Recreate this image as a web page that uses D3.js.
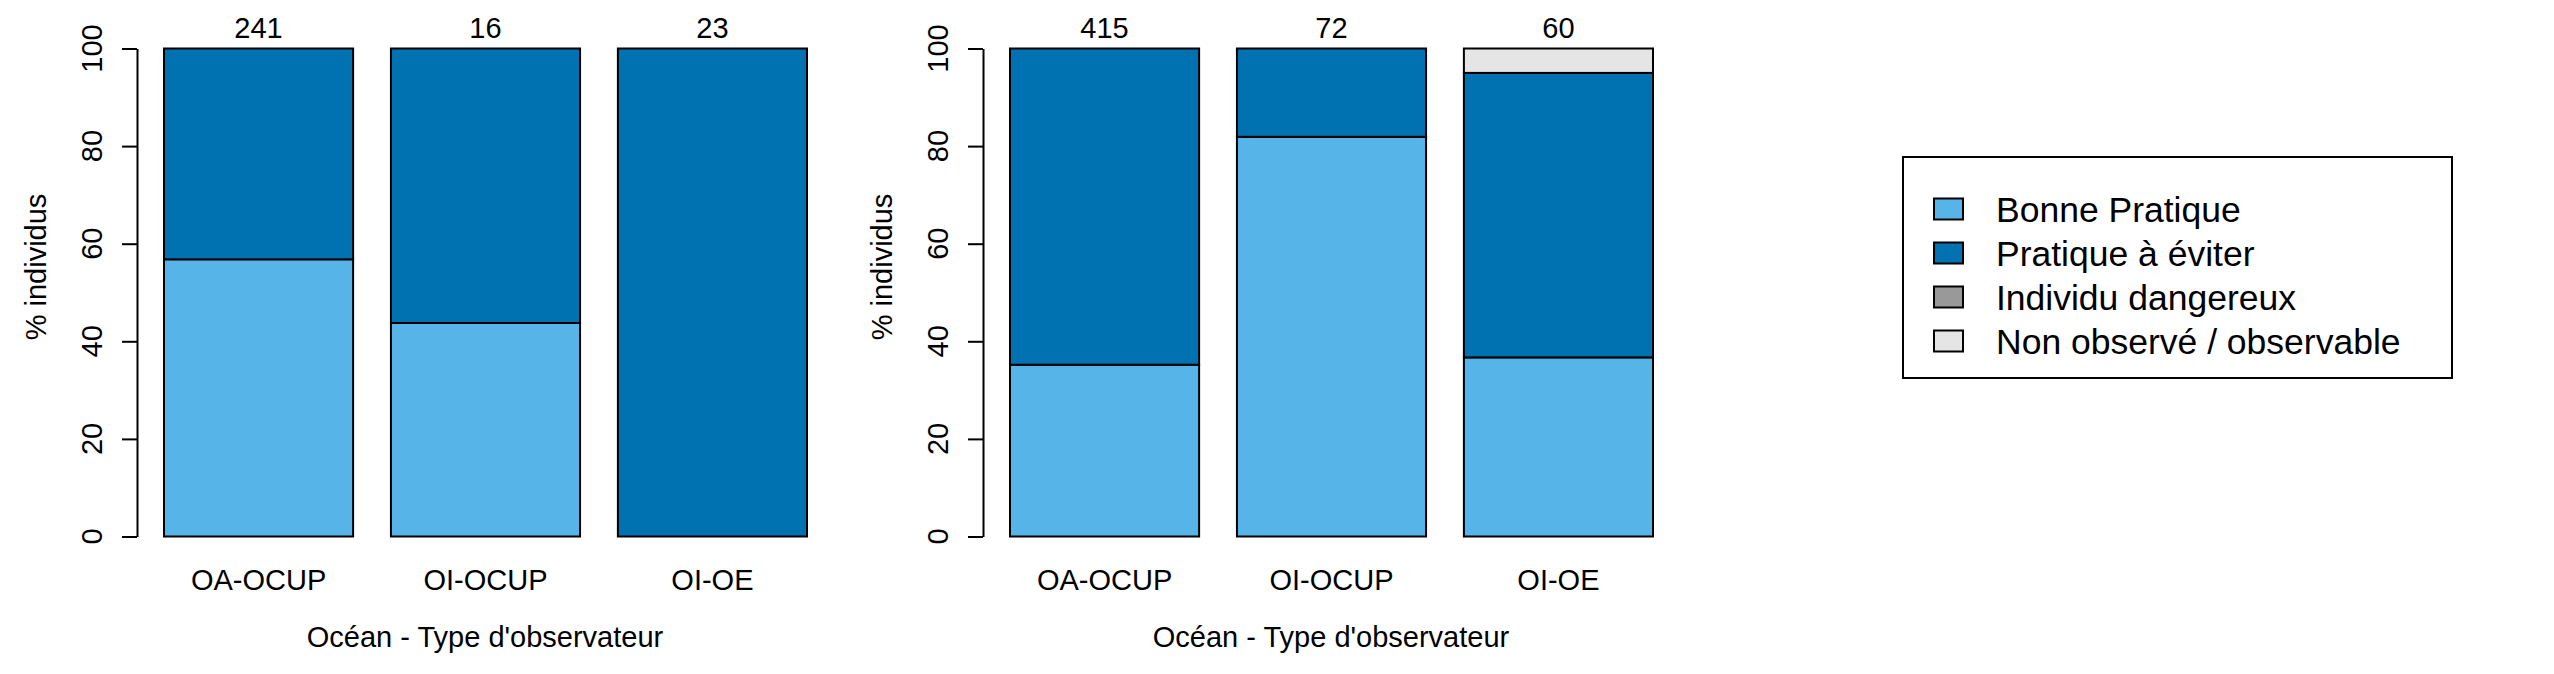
<!DOCTYPE html>
<html>
<head>
<meta charset="utf-8">
<script src="https://cdn.jsdelivr.net/npm/d3@7"></script>
<style>
  html, body { margin: 0; padding: 0; background: #ffffff; }
  svg { display: block; }
  text { font-family: "Liberation Sans", Arial, sans-serif; fill: #000; }
</style>
</head>
<body>
<svg id="chart" width="2554" height="674"></svg>
<script>
// ---- Data ----
const categories = ["OA-OCUP", "OI-OCUP", "OI-OE"];
const seriesNames = ["Bonne Pratique", "Pratique à éviter", "Individu dangereux", "Non observé / observable"];
const seriesColors = ["#56B4E9", "#0072B2", "#999999", "#E5E5E5"];

// Panel 1 (percentages)
const p1Bonne    = [56.8, 43.75, 0];
const p1Pratique = [43.2, 56.25, 100];
const p1Danger   = [0, 0, 0];
const p1NonObs   = [0, 0, 0];
const p1Counts   = [241, 16, 23];

// Panel 2 (percentages)
const p2Bonne    = [35.2, 81.9, 36.7];
const p2Pratique = [64.8, 18.1, 58.3];
const p2Danger   = [0, 0, 0];
const p2NonObs   = [0, 0, 5.0];
const p2Counts   = [415, 72, 60];

const yTicks = [0, 20, 40, 60, 80, 100];
const xTitle = "Océan - Type d'observateur";
const yTitle = "% individus";

// ---- Layout ----
const svg = d3.select("#chart");
const panelOffsets = [0, 846];
const axisFont = 29;

function drawPanel(offset, seriesArrays, counts) {
  const g = svg.append("g").attr("transform", `translate(${offset},0)`);

  const x = d3.scaleBand().domain(categories).range([164, 807]).paddingInner(0.1667).paddingOuter(0);
  const y = d3.scaleLinear().domain([0, 100]).range([536.5, 48.5]);

  const rows = categories.map((c, i) => {
    const o = { cat: c };
    seriesNames.forEach((s, j) => o[s] = seriesArrays[j][i]);
    return o;
  });
  const stacked = d3.stack().keys(seriesNames)(rows);

  stacked.forEach((layer, j) => {
    g.selectAll(null)
      .data(layer.filter(d => d[1] - d[0] > 0))
      .enter().append("rect")
      .attr("x", d => x(d.data.cat))
      .attr("width", x.bandwidth())
      .attr("y", d => y(d[1]))
      .attr("height", d => y(d[0]) - y(d[1]))
      .attr("fill", seriesColors[j])
      .attr("stroke", "#000")
      .attr("stroke-width", 2);
  });

  // y axis
  const axis = d3.axisLeft(y).tickValues(yTicks).tickSize(15).tickSizeOuter(0).tickFormat(d3.format("d"));
  const ag = g.append("g").attr("transform", "translate(137,0)").call(axis);
  ag.select(".domain").attr("stroke", "#000").attr("stroke-width", 2);
  ag.selectAll(".tick line").attr("stroke", "#000").attr("stroke-width", 2);
  ag.selectAll(".tick text").remove();
  yTicks.forEach(t => {
    g.append("text")
      .attr("transform", `translate(101.5,${y(t)}) rotate(-90)`)
      .attr("text-anchor", "middle")
      .attr("font-size", axisFont)
      .text(t);
  });

  // category labels
  g.selectAll(null).data(categories).enter().append("text")
    .attr("x", d => x(d) + x.bandwidth() / 2)
    .attr("y", 590)
    .attr("text-anchor", "middle")
    .attr("font-size", axisFont)
    .text(d => d);

  // counts on top
  g.selectAll(null).data(counts).enter().append("text")
    .attr("x", (d, i) => x(categories[i]) + x.bandwidth() / 2)
    .attr("y", 38)
    .attr("text-anchor", "middle")
    .attr("font-size", axisFont)
    .text(d => d);

  // axis titles
  g.append("text")
    .attr("x", 485).attr("y", 647)
    .attr("text-anchor", "middle")
    .attr("font-size", axisFont)
    .text(xTitle);
  g.append("text")
    .attr("transform", `translate(46,267) rotate(-90)`)
    .attr("text-anchor", "middle")
    .attr("font-size", axisFont)
    .text(yTitle);
}

drawPanel(panelOffsets[0], [p1Bonne, p1Pratique, p1Danger, p1NonObs], p1Counts);
drawPanel(panelOffsets[1], [p2Bonne, p2Pratique, p2Danger, p2NonObs], p2Counts);

// ---- Legend ----
const lg = svg.append("g");
lg.append("rect")
  .attr("x", 1903).attr("y", 157).attr("width", 549).attr("height", 221)
  .attr("fill", "#fff").attr("stroke", "#000").attr("stroke-width", 2);
const ly = d3.scalePoint().domain(seriesNames).range([209, 341]);
seriesNames.forEach((s, j) => {
  lg.append("rect")
    .attr("x", 1934).attr("y", ly(s) - 10.5).attr("width", 29).attr("height", 21)
    .attr("fill", seriesColors[j]).attr("stroke", "#000").attr("stroke-width", 2);
  lg.append("text")
    .attr("x", 1996).attr("y", ly(s) + 12.5)
    .attr("font-size", 35.5)
    .text(s);
});
</script>
</body>
</html>
